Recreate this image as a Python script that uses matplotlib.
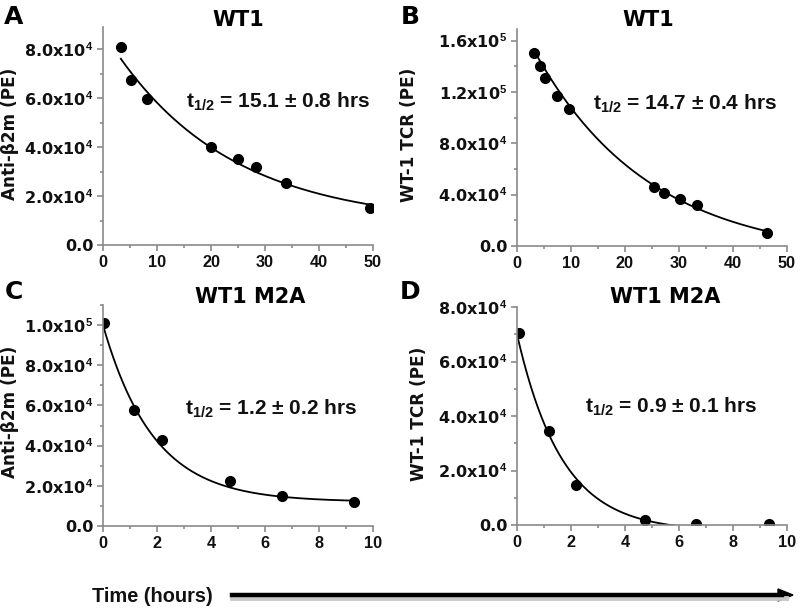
import numpy as np
import matplotlib
matplotlib.use('Agg')
import matplotlib.pyplot as plt
from matplotlib.ticker import MultipleLocator, FuncFormatter

plt.rcParams['mathtext.fontset'] = 'custom'
plt.rcParams['mathtext.rm'] = 'Liberation Sans:bold'
plt.rcParams['mathtext.it'] = 'Liberation Sans:bold'
plt.rcParams['mathtext.bf'] = 'Liberation Sans:bold'

# panel A: WT1, anti-b2m
a_time = [3.3, 5.1, 8.1, 20.0, 25.0, 28.3, 33.8, 49.4]
a_signal = [8.1e4, 6.75e4, 5.95e4, 4.0e4, 3.5e4, 3.2e4, 2.55e4, 1.5e4]
# panel B: WT1, WT-1 TCR
b_time = [3.2, 4.2, 5.2, 7.4, 9.6, 25.3, 27.2, 30.2, 33.3, 46.3]
b_signal = [15.0e4, 14.0e4, 13.1e4, 11.7e4, 10.7e4, 4.6e4, 4.15e4, 3.63e4, 3.19e4, 1.04e4]
# panel C: WT1 M2A, anti-b2m
c_time = [0.02, 1.14, 2.19, 4.7, 6.62, 9.3]
c_signal = [10.1e4, 5.75e4, 4.3e4, 2.22e4, 1.5e4, 1.2e4]
# panel D: WT1 M2A, WT-1 TCR
d_time = [0.09, 1.17, 2.19, 4.75, 6.63, 9.32]
d_signal = [7.03e4, 3.44e4, 1.45e4, 0.17e4, 0.05e4, 0.04e4]

# one-phase decay fits: amplitude, plateau, half-life (hrs), fitted range
a_fit = (7.875e4, 0.835e4, 15.1, 3.3, 49.4)
b_fit = (18.8e4, -0.97e4, 14.7, 3.2, 46.3)
c_fit = (8.8e4, 1.2e4, 1.3, 0.0, 9.3)
d_fit = (7.24e4, -0.24e4, 1.155, 0.0, 6.5)

titles = ['WT1', 'WT1', 'WT1 M2A', 'WT1 M2A']
letters = ['A', 'B', 'C', 'D']
ylabels = ['Anti-\u03b22m (PE)', 'WT-1 TCR (PE)', 'Anti-\u03b22m (PE)', 'WT-1 TCR (PE)']
halflife_text = ['$\\mathregular{t_{1/2}}$ = 15.1 \u00b1 0.8 hrs',
                 '$\\mathregular{t_{1/2}}$ = 14.7 \u00b1 0.4 hrs',
                 '$\\mathregular{t_{1/2}}$ = 1.2 \u00b1 0.2 hrs',
                 '$\\mathregular{t_{1/2}}$ = 0.9 \u00b1 0.1 hrs']

W, H = 800, 609
fig = plt.figure(figsize=(8, 6.09), dpi=100)


def rect(l, t, r, b):
	return [l / W, 1 - b / H, (r - l) / W, (b - t) / H]


def px(x, y):
	return x / W, 1 - y / H


def sci(v, pos):
	if v == 0: return '0.0'
	e = int(np.floor(np.log10(abs(v))))
	m = v / 10**e
	return f'{m:.1f}x10$^{{{e}}}$'


def panel(ax, t, s, fit, xmax, xmaj, ymax, ymaj):
	amp, plateau, th, t0, t1 = fit
	xs = np.linspace(t0, t1, 300)
	ax.plot(xs, amp * np.exp(-np.log(2) / th * xs) + plateau, color='black', lw=1.3)
	ax.plot(t, s, 'o', color='black', ms=7)
	ax.set_xlim(0, xmax)
	ax.set_ylim(0, ymax)
	ax.xaxis.set_major_locator(MultipleLocator(xmaj))
	ax.xaxis.set_minor_locator(MultipleLocator(xmaj / 2))
	ax.yaxis.set_major_locator(MultipleLocator(ymaj))
	ax.yaxis.set_minor_locator(MultipleLocator(ymaj / 2))
	ax.yaxis.set_major_formatter(FuncFormatter(sci))
	for side in ('top', 'right'):
		ax.spines[side].set_visible(False)
	for side in ('left', 'bottom'):
		ax.spines[side].set_color('#8a8a8a')
		ax.spines[side].set_linewidth(1.2)
	ax.tick_params(which='both', direction='out', color='#8a8a8a', width=1.2)
	ax.tick_params(which='major', length=4, pad=3, labelcolor='#111111')
	ax.tick_params(which='minor', length=2)
	for lab in ax.get_xticklabels():
		lab.set_fontfamily('Liberation Sans')
		lab.set_fontweight('bold')
		lab.set_fontsize(11.7)
	for lab in ax.get_yticklabels():
		lab.set_fontfamily('DejaVu Sans')
		lab.set_fontweight('bold')
		lab.set_fontsize(11.5)


axA = fig.add_axes(rect(103, 27, 373, 245))
panel(axA, a_time, a_signal, a_fit, 50, 10, 8.9e4, 2e4)
axB = fig.add_axes(rect(517, 29, 787, 246))
panel(axB, b_time, b_signal, b_fit, 50, 10, 1.69e5, 4e4)
axC = fig.add_axes(rect(103, 305, 373, 526))
panel(axC, c_time, c_signal, c_fit, 10, 2, 1.1e5, 2e4)
axD = fig.add_axes(rect(517, 307, 787, 525))
panel(axD, d_time, d_signal, d_fit, 10, 2, 8e4, 2e4)

title_pos = [(238, 20), (648, 20), (250, 297), (665, 297)]
letter_pos = [(14, 17), (410, 17), (14, 292), (410, 292)]
ylabel_pos = [(10, 134), (409, 135), (10, 412), (419, 414)]
note_pos = [(186, 108), (593, 110), (185, 415), (585, 413)]

for i in range(4):
	fig.text(*px(*title_pos[i]), titles[i], ha='center', va='center',
		family='DejaVu Sans', weight='bold', fontsize=15)
	fig.text(*px(*letter_pos[i]), letters[i], ha='center', va='center',
		family='DejaVu Sans', weight='bold', fontsize=18)
	fig.text(*px(*ylabel_pos[i]), ylabels[i], ha='center', va='center', rotation=90,
		family='DejaVu Sans', weight='bold', fontsize=12.2, color='#111111')
	fig.text(*px(*note_pos[i]), halflife_text[i], ha='left', va='baseline',
		family='Liberation Sans', weight='bold', fontsize=15, color='#111111')

fig.text(*px(152, 597), 'Time (hours)', ha='center', va='center',
	family='Liberation Sans', weight='bold', fontsize=14.4, color='#111111')
# arrow with a soft shadow
fig.add_artist(plt.Line2D([232 / W, 786 / W], [1 - 597.5 / H] * 2, color='#c8c8c8', lw=3.5))
fig.add_artist(plt.Line2D([232 / W, 782 / W], [1 - 595 / H] * 2, color='black', lw=3.2))
fig.add_artist(plt.Polygon([px(778, 589), px(793, 595), px(778, 601)], closed=True,
	color='black', transform=fig.transFigure))

fig.savefig('out.png', dpi=100)
